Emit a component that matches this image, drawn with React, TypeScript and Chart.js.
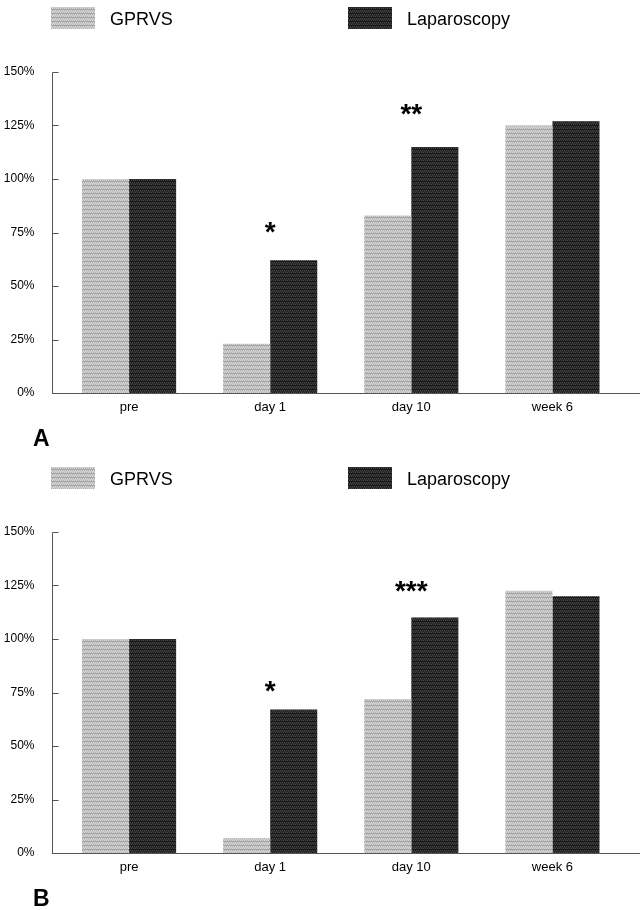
import React, { useEffect, useRef } from "react";
import { Chart, registerables } from "chart.js";

Chart.register(...registerables);

const categories = ["pre", "day 1", "day 10", "week 6"];
const seriesNames = ["GPRVS", "Laparoscopy"];
const gprvsA = [100, 23, 83, 125];
const laparoscopyA = [100, 62, 115, 127];
const gprvsB = [100, 7, 72, 122.5];
const laparoscopyB = [100, 67, 110, 120];
const starsA = ["", "*", "**", ""];
const starLevelA = [0, 78.5, 133.5, 0];
const starsB = ["", "*", "***", ""];
const starLevelB = [0, 79, 125.5, 0];
const yTicks = [0, 25, 50, 75, 100, 125, 150];

const FONT = "'Liberation Sans', Arial, Helvetica, sans-serif";

function makePattern(light: boolean): CanvasPattern | string {
  const c = document.createElement("canvas");
  c.width = 4;
  c.height = 4;
  const g = c.getContext("2d");
  if (!g) return light ? "#bdbdbd" : "#2e2e2e";
  const rows = light
    ? [
        ["#dadada", "#b0b0b0", "#dadada", "#b0b0b0"],
        ["#a4a4a4", "#a4a4a4", "#a4a4a4", "#a4a4a4"],
        ["#b0b0b0", "#dadada", "#b0b0b0", "#dadada"],
        ["#cacaca", "#cacaca", "#cacaca", "#cacaca"],
      ]
    : [
        ["#1c1c1c", "#4a4a4a", "#1c1c1c", "#4a4a4a"],
        ["#151515", "#151515", "#151515", "#151515"],
        ["#4a4a4a", "#1c1c1c", "#4a4a4a", "#1c1c1c"],
        ["#2c2c2c", "#2c2c2c", "#2c2c2c", "#2c2c2c"],
      ];
  rows.forEach((r, y) =>
    r.forEach((col, x) => {
      g.fillStyle = col;
      g.fillRect(x, y, 1, 1);
    })
  );
  const ctx = document.createElement("canvas").getContext("2d");
  const p = ctx ? ctx.createPattern(c, "repeat") : null;
  return p || (light ? "#bdbdbd" : "#2e2e2e");
}

const decorPlugin = {
  id: "decor",
  afterDraw(chart: any, _args: any, opts: any) {
    const { ctx, chartArea, scales } = chart;
    const y = scales.y;
    const x = scales.x;
    const axisX = chartArea.left - 6.5;
    ctx.save();
    // legend
    const ds = chart.data.datasets;
    const legendX = [51, 348];
    ds.forEach((d: any, i: number) => {
      ctx.fillStyle = d.backgroundColor;
      ctx.fillRect(legendX[i], 7, 44, 22);
      ctx.fillStyle = "#000";
      ctx.font = `18px ${FONT}`;
      ctx.textBaseline = "middle";
      ctx.textAlign = "left";
      ctx.fillText(d.label, legendX[i] + 59, 20);
    });
    // axes
    ctx.strokeStyle = "#555";
    ctx.lineWidth = 1;
    ctx.beginPath();
    const yTop = Math.round(y.getPixelForValue(150)) + 0.5;
    const yBot = Math.round(y.getPixelForValue(0)) + 0.5;
    ctx.moveTo(Math.round(axisX) + 0.5, yTop);
    ctx.lineTo(Math.round(axisX) + 0.5, yBot);
    yTicks.forEach((t) => {
      const py = Math.round(y.getPixelForValue(t)) + 0.5;
      ctx.moveTo(Math.round(axisX) + 0.5, py);
      ctx.lineTo(Math.round(axisX) + 6.5, py);
    });
    ctx.moveTo(Math.round(axisX), yBot);
    ctx.lineTo(chart.width - 2, yBot);
    ctx.stroke();
    // stars
    ctx.fillStyle = "#000";
    ctx.font = `bold 28px ${FONT}`;
    ctx.textAlign = "center";
    ctx.textBaseline = "alphabetic";
    const stars: string[] = opts.stars || [];
    const levels: number[] = opts.levels || [];
    stars.forEach((s, i) => {
      if (!s) return;
      const cx = x.getPixelForValue(i);
      const cy = y.getPixelForValue(levels[i]);
      ctx.fillText(s, cx, cy + 28 * 0.57);
    });
    // panel letter
    ctx.font = `bold 23px ${FONT}`;
    ctx.textAlign = "left";
    ctx.textBaseline = "middle";
    ctx.fillText(opts.panel || "", 33, chartArea.bottom + 47);
    ctx.restore();
  },
};

function Panel(props: {
  height: number;
  g: number[];
  l: number[];
  stars: string[];
  levels: number[];
  panel: string;
}) {
  const ref = useRef<HTMLCanvasElement>(null);
  useEffect(() => {
    if (!ref.current) return;
    const bottomPad = props.height - 393 - 30;
    const chart = new Chart(ref.current, {
      type: "bar",
      data: {
        labels: categories,
        datasets: [
          {
            label: seriesNames[0],
            data: props.g,
            backgroundColor: makePattern(true) as any,
            borderWidth: 0,
          },
          {
            label: seriesNames[1],
            data: props.l,
            backgroundColor: makePattern(false) as any,
            borderWidth: 0,
          },
        ],
      },
      options: {
        animation: false,
        responsive: false,
        devicePixelRatio: 1,
        layout: { padding: { top: 72, bottom: bottomPad, left: 0, right: 19 } },
        datasets: {
          bar: { categoryPercentage: 0.667, barPercentage: 1.0 },
        },
        plugins: {
          legend: { display: false },
          tooltip: { enabled: false },
          decor: { stars: props.stars, levels: props.levels, panel: props.panel },
        } as any,
        scales: {
          x: {
            grid: { display: false, drawTicks: false },
            border: { display: false },
            ticks: { color: "#000", font: { family: FONT, size: 13 }, padding: 7 },
            afterFit: (s: any) => {
              s.height = 30;
            },
          },
          y: {
            min: 0,
            max: 150,
            grid: { display: false, drawTicks: false },
            border: { display: false },
            ticks: {
              stepSize: 25,
              color: "#000",
              font: { family: FONT, size: 12 },
              padding: 24,
              callback: (v: any) => v + "%",
            },
            afterFit: (s: any) => {
              s.width = 58.5;
            },
          },
        },
      },
      plugins: [decorPlugin],
    });
    return () => chart.destroy();
  }, []);
  return (
    <canvas
      ref={ref}
      width={642}
      height={props.height}
      style={{ display: "block", width: 642, height: props.height }}
    />
  );
}

export default function App() {
  return (
    <div
      style={{
        position: "absolute",
        top: 0,
        left: 0,
        width: 642,
        height: 910,
        background: "#fff",
        overflow: "hidden",
      }}
    >
      <Panel height={460} g={gprvsA} l={laparoscopyA} stars={starsA} levels={starLevelA} panel="A" />
      <Panel height={450} g={gprvsB} l={laparoscopyB} stars={starsB} levels={starLevelB} panel="B" />
    </div>
  );
}
